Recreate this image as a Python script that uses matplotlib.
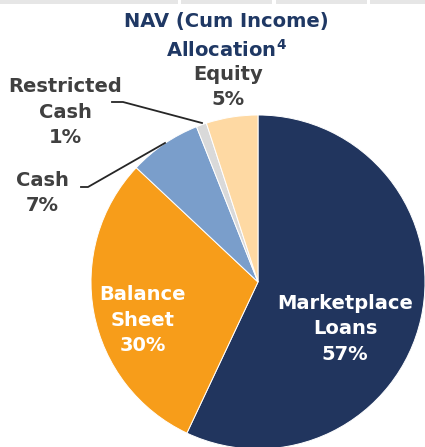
import matplotlib.pyplot as plt
from matplotlib.patches import Rectangle

# NAV allocation (%), clockwise from 12 o'clock
labels = ['Marketplace\nLoans\n57%', 'Balance\nSheet\n30%', 'Cash\n7%',
          'Restricted\nCash\n1%', 'Equity\n5%']
shares = [57, 30, 7, 1, 5]
colors = ['#21355e', '#f79d1a', '#7a9ecb', '#d9d9d9', '#fed9a3']

W, H = 425, 447
fig = plt.figure(figsize=(W / 100, H / 100), dpi=100)
ax = fig.add_axes([0, 0, 1, 1])

cx, cy, r = 258, H - 282, 167
ax.pie(shares, colors=colors, startangle=90, counterclock=False,
       center=(cx, cy), radius=r, frame=True,
       wedgeprops=dict(edgecolor='white', linewidth=0.7))
ax.set_xlim(0, W)
ax.set_ylim(0, H)
ax.set_aspect('equal')
ax.axis('off')

# remnants of the table header strip at the very top
for x0, x1 in [(0, 178), (181, 272), (276, 367), (370, W)]:
    ax.add_patch(Rectangle((x0, H - 4), x1 - x0, 4, color='#e6e6e6', lw=0))

navy = '#1f3864'
grey = '#404040'
fs = 14
ls = 1.42

ax.text(226, H - 22, 'NAV (Cum Income)', ha='center', va='center',
        color=navy, fontsize=fs, fontweight='bold')
ax.text(226, H - 50, 'Allocation$^{\\mathbf{4}}$', ha='center', va='center',
        color=navy, fontsize=fs, fontweight='bold')

ax.text(345, H - 329, labels[0], ha='center', va='center', color='white',
        fontsize=fs, fontweight='bold', linespacing=ls)
ax.text(143, H - 320, labels[1], ha='center', va='center', color='white',
        fontsize=fs, fontweight='bold', linespacing=ls)
ax.text(42, H - 193, labels[2], ha='center', va='center', color=grey,
        fontsize=fs, fontweight='bold', linespacing=ls)
ax.text(65, H - 112, labels[3], ha='center', va='center', color=grey,
        fontsize=fs, fontweight='bold', linespacing=ls)
ax.text(228, H - 87, labels[4], ha='center', va='center', color=grey,
        fontsize=fs, fontweight='bold', linespacing=ls)

# leader lines
ax.plot([112, 123, 202], [H - 102, H - 102, H - 123], color='#262626', lw=1.3)
ax.plot([81, 88, 165], [H - 187, H - 187, H - 143], color='#262626', lw=1.3)

fig.savefig('out.png', dpi=100)
